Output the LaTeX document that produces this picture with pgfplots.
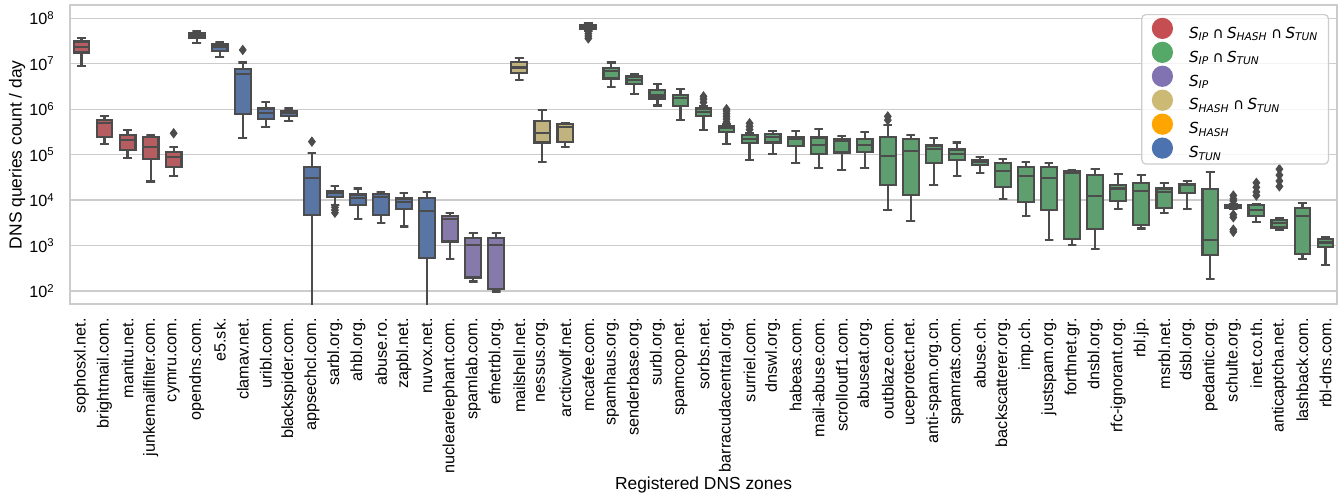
\documentclass[border=0pt]{standalone}
\usepackage{fontspec}
\setmainfont{Liberation Sans}
\newfontfamily\dv{DejaVu Sans}
\usepackage{pgfplots}
\pgfplotsset{compat=1.18}

% box fills (seaborn, desaturated) and legend colours
\definecolor{bR}{HTML}{B55D60}
\definecolor{bG}{HTML}{5F9E6E}
\definecolor{bP}{HTML}{857AAA}
\definecolor{bY}{HTML}{C1B37F}
\definecolor{bB}{HTML}{5975A4}
\definecolor{lR}{HTML}{C44E52}
\definecolor{lG}{HTML}{55A868}
\definecolor{lP}{HTML}{8172B2}
\definecolor{lY}{HTML}{CCB974}
\definecolor{lO}{HTML}{FFA500}
\definecolor{lB}{HTML}{4C72B0}
\definecolor{lg}{HTML}{4C4C4C}
\definecolor{gridc}{HTML}{CCCCCC}

\pgfplotsset{bxl/.style={forget plot, draw=lg, line width=1.1pt, mark=none}}

% pos, colour, lower whisker, Q1, median, Q3, upper whisker
\newcommand{\bx}[7]{%
  \pgfmathsetmacro{\xa}{#1-0.34}\pgfmathsetmacro{\xb}{#1+0.34}%
  \pgfmathsetmacro{\ca}{#1-0.19}\pgfmathsetmacro{\cb}{#1+0.19}%
  \addplot[bxl] coordinates {(\ca,#3) (\cb,#3) (#1,#3) (#1,#4)};
  \addplot[bxl] coordinates {(#1,#6) (#1,#7) (\ca,#7) (\cb,#7)};
  \addplot[bxl, fill=#2] coordinates {(\xa,#4) (\xb,#4) (\xb,#6) (\xa,#6)} --cycle;
  \addplot[bxl] coordinates {(\xa,#5) (\xb,#5)};
}

\newcommand{\Ss}[1]{S\textsubscript{#1}}
\newcommand{\cp}{\hspace{0.22em}{\upshape ∩}\hspace{0.22em}}
\newcommand{\legdot}[1]{\addlegendimage{legend image code/.code={\fill[#1, fill opacity=1] (5pt,2.8pt) circle (5pt); \path (18pt,2.8pt);}}}

\begin{document}
\begin{tikzpicture}
\useasboundingbox (-35pt,-96.85pt) rectangle (636.5pt,152.15pt);
\begin{axis}[
  at={(0,0)}, anchor=south west, scale only axis,
  width=633.5pt, height=149.5pt,
  xmin=-0.5, xmax=54.5,
  ymode=log, ymin=50.9, ymax=1.93e8,
  yminorticks=false,
  ytick={1e2,1e3,1e4,1e5,1e6,1e7,1e8},
  yticklabels={10\textsuperscript{2},10\textsuperscript{3},10\textsuperscript{4},10\textsuperscript{5},10\textsuperscript{6},10\textsuperscript{7},10\textsuperscript{8}},
  xtick={0,...,54},
  xticklabels={sophosxl.net.,brightmail.com.,manitu.net.,junkemailfilter.com.,cymru.com.,opendns.com.,e5.sk.,clamav.net.,uribl.com.,blackspider.com.,appsechcl.com.,sarbl.org.,ahbl.org.,abuse.ro.,zapbl.net.,nuvox.net.,nuclearelephant.com.,spamlab.com.,efnetrbl.org.,mailshell.net.,nessus.org.,arcticwolf.net.,mcafee.com.,spamhaus.org.,senderbase.org.,surbl.org.,spamcop.net.,sorbs.net.,barracudacentral.org.,surriel.com.,dnswl.org.,habeas.com.,mail-abuse.com.,scrolloutf1.com.,abuseat.org.,outblaze.com.,uceprotect.net.,anti-spam.org.cn.,spamrats.com.,abuse.ch.,backscatterer.org.,imp.ch.,justspam.org.,forthnet.gr.,dnsbl.org.,rfc-ignorant.org.,rbl.jp.,msrbl.net.,dsbl.org.,pedantic.org.,schulte.org.,inet.co.th.,anticaptcha.net.,lashback.com.,rbl-dns.com.},
  tick style={draw=none},
  tick label style={font=\fontsize{8.1}{9.7}\selectfont},
  xticklabel style={rotate=90, anchor=east, inner sep=0pt},
  yticklabel style={inner sep=0pt},
  xticklabel shift=6.8pt, yticklabel shift=7.5pt,
  ymajorgrids, major grid style={draw=gridc, line width=0.6pt},
  axis line style={draw=gridc, line width=0.9pt},
  label style={font=\fontsize{8.7}{10.4}\selectfont},
  xlabel={Registered DNS zones},
  ylabel={DNS queries count / day},
  xlabel style={at={(axis description cs:0.5,-0.604)}, anchor=center},
  ylabel style={at={(axis description cs:-0.0418,0.5)}, anchor=center},
  legend cell align=left,
  legend style={at={(0.9937,0.9709)}, anchor=north east, draw=gridc, line width=0.6pt,
    fill=white, fill opacity=0.8, text opacity=1, rounded corners=2pt,
    inner xsep=5pt, inner ysep=1.6pt, row sep=0.3pt,
    font=\dv\itshape\fontsize{7.6}{9.1}\selectfont, nodes={inner sep=0pt}},
]
\legdot{lR}\addlegendentry{\Ss{IP}\cp\Ss{HASH}\cp\Ss{TUN}}
\legdot{lG}\addlegendentry{\Ss{IP}\cp\Ss{TUN}}
\legdot{lP}\addlegendentry{\Ss{IP}}
\legdot{lY}\addlegendentry{\Ss{HASH}\cp\Ss{TUN}}
\legdot{lO}\addlegendentry{\Ss{HASH}}
\legdot{lB}\addlegendentry{\Ss{TUN}}

\bx{0}{bR}{8.93e6}{1.76e7}{2.38e7}{3.07e7}{3.63e7}
\bx{1}{bR}{1.72e5}{2.49e5}{5.06e5}{5.79e5}{7.10e5}
\bx{2}{bR}{8.59e4}{1.27e5}{2.10e5}{2.71e5}{3.49e5}
\bx{3}{bR}{2.55e4}{8.17e4}{1.50e5}{2.41e5}{2.75e5}
\bx{4}{bR}{3.40e4}{5.27e4}{9.04e4}{1.16e5}{1.50e5}
\bx{5}{bB}{2.82e7}{3.76e7}{4.16e7}{4.68e7}{5.26e7}
\bx{6}{bB}{1.39e7}{1.91e7}{2.30e7}{2.64e7}{2.92e7}
\bx{7}{bB}{2.33e5}{7.85e5}{5.96e6}{7.55e6}{1.06e7}
\bx{8}{bB}{4.00e5}{6.10e5}{8.39e5}{1.03e6}{1.42e6}
\bx{9}{bB}{5.51e5}{7.10e5}{8.13e5}{8.99e5}{1.03e6}
\bx{10}{bB}{10}{4.71e3}{3.02e4}{5.27e4}{1.07e5}
\bx{11}{bB}{7.82e3}{1.19e4}{1.46e4}{1.61e4}{2.08e4}
\bx{12}{bB}{3.91e3}{7.82e3}{1.11e4}{1.32e4}{1.79e4}
\bx{13}{bB}{3.19e3}{4.62e3}{1.19e4}{1.36e4}{1.51e4}
\bx{14}{bB}{2.61e3}{6.27e3}{9.10e3}{1.08e4}{1.41e4}
\bx{15}{bB}{10}{542}{5.68e3}{1.11e4}{1.51e4}
\bx{16}{bP}{515}{1.22e3}{3.91e3}{4.48e3}{5.30e3}
\bx{17}{bP}{161}{197}{1.03e3}{1.49e3}{1.86e3}
\bx{18}{bP}{97}{109}{1.01e3}{1.49e3}{1.86e3}
\bx{19}{bY}{4.40e6}{6.17e6}{8.22e6}{1.08e7}{1.34e7}
\bx{20}{bY}{7.01e4}{1.84e5}{3.05e5}{5.42e5}{9.77e5}
\bx{21}{bY}{1.45e5}{1.87e5}{4.00e5}{4.73e5}{4.98e5}
\bx{22}{bG}{5.25e7}{5.82e7}{6.46e7}{7.13e7}{7.76e7}
\bx{23}{bG}{3.13e6}{4.71e6}{6.93e6}{7.94e6}{1.06e7}
\bx{24}{bG}{2.16e6}{3.53e6}{4.40e6}{5.21e6}{5.96e6}
\bx{25}{bG}{1.20e6}{1.71e6}{1.99e6}{2.65e6}{3.59e6}
\bx{26}{bG}{5.79e5}{1.18e6}{1.79e6}{2.09e6}{2.83e6}
\bx{27}{bG}{3.49e5}{7.21e5}{8.83e5}{1.03e6}{1.18e6}
\bx{28}{bG}{1.69e5}{3.16e5}{3.80e5}{4.28e5}{4.73e5}
\bx{29}{bG}{7.64e4}{1.78e5}{2.25e5}{2.67e5}{3.05e5}
\bx{30}{bG}{1.04e5}{1.84e5}{2.49e5}{2.85e5}{3.27e5}
\bx{31}{bG}{6.46e4}{1.55e5}{2.18e5}{2.49e5}{3.27e5}
\bx{32}{bG}{5.01e4}{1.04e5}{1.61e5}{2.37e5}{3.61e5}
\bx{33}{bG}{4.53e4}{1.11e5}{1.97e5}{2.25e5}{2.58e5}
\bx{34}{bG}{5.01e4}{1.16e5}{1.66e5}{2.25e5}{3.10e5}
\bx{35}{bG}{6.07e3}{2.15e4}{9.35e4}{2.45e5}{4.50e5}
\bx{36}{bG}{3.53e3}{1.30e4}{1.22e5}{2.21e5}{2.75e5}
\bx{37}{bG}{2.19e4}{6.46e4}{1.33e5}{1.58e5}{2.33e5}
\bx{38}{bG}{3.40e4}{7.64e4}{1.04e5}{1.29e5}{1.84e5}
\bx{39}{bG}{4.02e4}{5.93e4}{6.79e4}{7.64e4}{9.04e4}
\bx{40}{bG}{1.04e4}{1.91e4}{4.45e4}{6.67e4}{8.17e4}
\bx{41}{bG}{4.48e3}{8.95e3}{3.45e4}{5.45e4}{7.01e4}
\bx{42}{bG}{1.33e3}{6.07e3}{3.12e4}{5.27e4}{6.67e4}
\bx{43}{bG}{1.01e3}{1.40e3}{3.89e4}{4.45e4}{4.60e4}
\bx{44}{bG}{826}{2.28e3}{1.21e4}{3.57e4}{4.92e4}
\bx{45}{bG}{6.27e3}{9.73e3}{1.79e4}{2.15e4}{3.70e4}
\bx{46}{bG}{2.36e3}{2.79e3}{1.61e4}{2.38e4}{3.57e4}
\bx{47}{bG}{5.13e3}{6.61e3}{1.53e4}{1.79e4}{2.34e4}
\bx{48}{bG}{6.38e3}{1.41e4}{2.12e4}{2.26e4}{2.64e4}
\bx{49}{bG}{187}{631}{1.33e3}{1.73e4}{4.16e4}
\bx{50}{bG}{6.31e3}{6.61e3}{7.41e3}{7.94e3}{8.22e3}
\bx{51}{bG}{3.36e3}{4.48e3}{6.07e3}{7.69e3}{8.22e3}
\bx{52}{bG}{2.20e3}{2.48e3}{3.09e3}{3.66e3}{3.98e3}
\bx{53}{bG}{499}{653}{4.55e3}{6.82e3}{8.79e3}
\bx{54}{bG}{367}{946}{1.16e3}{1.40e3}{1.52e3}

% outliers
\addplot[forget plot, only marks, mark=diamond*, mark size=2.3pt,
  mark options={draw=lg, fill=lg, line width=0.4pt}] coordinates {
  (4,2.95e5) (7,2.01e7) (10,1.93e5)
  (11,6.92e3) (11,6.03e3) (11,5.25e3)
  (22,4.62e7) (22,4.07e7) (22,3.60e7)
  (27,1.41e6) (27,1.66e6) (27,1.91e6)
  (28,5.25e5) (28,6.03e5) (28,6.92e5) (28,7.94e5) (28,9.12e5) (28,1.00e6)
  (29,3.55e5) (29,4.17e5) (29,4.90e5)
  (35,5.75e5) (35,6.92e5)
  (50,1.26e4) (50,1.07e4) (50,9.55e3) (50,4.79e3) (50,4.17e3) (50,2.24e3) (50,2.00e3)
  (51,1.26e4) (51,1.51e4) (51,1.91e4) (51,2.40e4)
  (52,2.00e4) (52,2.63e4) (52,3.55e4) (52,4.79e4)
};
\end{axis}
\end{tikzpicture}
\end{document}
